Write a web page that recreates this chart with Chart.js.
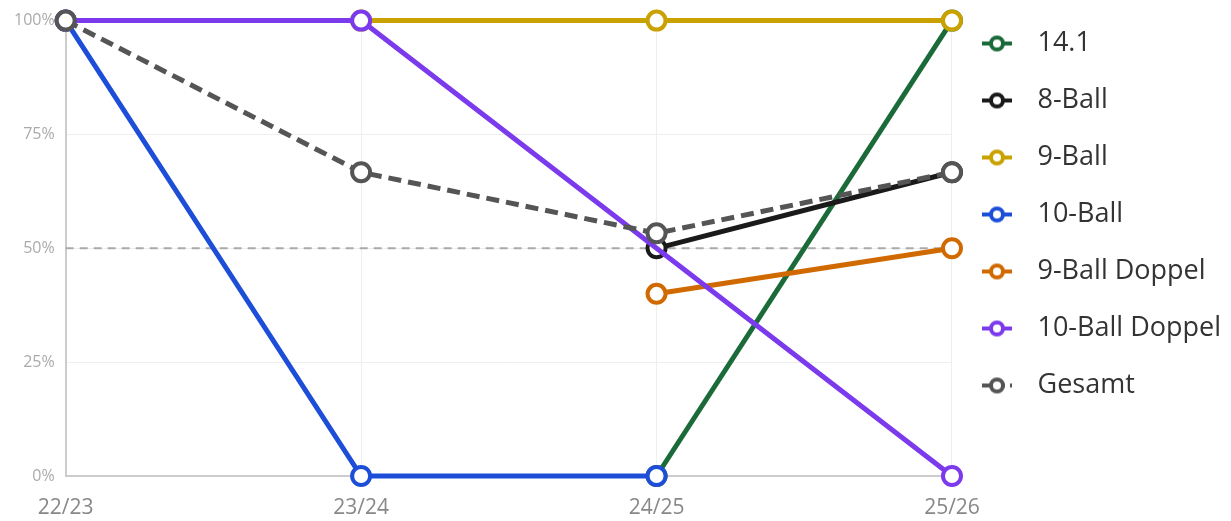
<!DOCTYPE html>
<html>
<head>
<meta charset="utf-8">
<script src="https://cdn.jsdelivr.net/npm/chart.js@4"></script>
<style>
  html, body { margin: 0; padding: 0; background: #fff; }
  #wrap { width: 1231px; height: 521px; }
</style>
</head>
<body>
<div id="wrap"><canvas id="quoteChart"></canvas></div>
<script>
const seasons = ['22/23', '23/24', '24/25', '25/26'];

const names = ['14.1', '8-Ball', '9-Ball', '10-Ball', '9-Ball Doppel', '10-Ball Doppel', 'Gesamt'];
const colors = ['#1b6b3a', '#1a1a1a', '#c9a200', '#1d4ed8', '#d06a00', '#7c3aed', '#555555'];

const quote141 = [null, null, 0, 100];
const quote8Ball = [null, null, 50, 66.7];
const quote9Ball = [100, 100, 100, 100];
const quote10Ball = [100, 0, 0, null];
const quote9BallDoppel = [null, null, 40, 50];
const quote10BallDoppel = [100, 100, null, 0];
const quoteGesamt = [100, 66.7, 53.3, 66.7];
const referenceLine = [50, 50, 50, 50];

const yTicks = [0, 25, 50, 75, 100];

const allValues = [quote141, quote8Ball, quote9Ball, quote10Ball, quote9BallDoppel, quote10BallDoppel, quoteGesamt];

// legend icons: short line with hollow circle
function makeIcon(color, dashed) {
  const c = document.createElement('canvas');
  c.width = 42;
  c.height = 20;
  const g = c.getContext('2d');
  g.strokeStyle = color;
  g.lineWidth = 4;
  if (dashed) g.setLineDash([9, 5]);
  g.beginPath();
  g.moveTo(0, 10);
  g.lineTo(30, 10);
  g.stroke();
  g.setLineDash([]);
  g.beginPath();
  g.arc(15, 10, 6, 0, Math.PI * 2);
  g.fillStyle = '#fff';
  g.fill();
  g.lineWidth = 4;
  g.stroke();
  return c;
}

const icons = names.map((n, i) => makeIcon(colors[i], n === 'Gesamt'));

const datasets = names.map((name, i) => ({
  label: name,
  data: allValues[i],
  borderColor: colors[i],
  backgroundColor: '#fff',
  pointBackgroundColor: '#fff',
  pointBorderColor: colors[i],
  borderWidth: 5,
  pointRadius: 9,
  pointBorderWidth: 4,
  borderDash: name === 'Gesamt' ? [13, 7] : [],
  spanGaps: name === '10-Ball Doppel',
  order: names.length - i
}));

datasets.push({
  label: 'ref',
  data: referenceLine,
  borderColor: '#aaaaaa',
  borderWidth: 2,
  borderDash: [8, 6],
  pointRadius: 0,
  order: 99
});

// move the legend up a bit, the plot area keeps its place
const legendShift = {
  id: 'legendShift',
  afterUpdate(chart) {
    if (chart.legend) {
      chart.legend.top -= 17;
      chart.legend.bottom -= 17;
    }
  }
};

Chart.defaults.font.family = '"Open Sans", "Noto Sans", sans-serif';

new Chart(document.getElementById('quoteChart'), {
  type: 'line',
  data: { labels: seasons, datasets: datasets },
  options: {
    responsive: true,
    maintainAspectRatio: false,
    animation: false,
    clip: false,
    layout: { padding: { top: 17, right: 0, left: 3, bottom: 0 } },
    plugins: {
      tooltip: { enabled: false },
      legend: {
        position: 'right',
        align: 'start',
        labels: {
          usePointStyle: true,
          pointStyleWidth: 42,
          boxHeight: 20,
          padding: 30,
          color: '#333',
          font: { size: 27 },
          filter: item => item.text !== 'ref',
          sort: (a, b) => a.datasetIndex - b.datasetIndex,
          generateLabels: chart => {
            const items = Chart.defaults.plugins.legend.labels.generateLabels(chart);
            items.forEach(it => { if (icons[it.datasetIndex]) it.pointStyle = icons[it.datasetIndex]; });
            return items;
          }
        }
      }
    },
    scales: {
      x: {
        afterFit: axis => { axis.height = 45; },
        grid: { color: '#eeeeee', drawTicks: false },
        border: { color: '#cccccc', width: 2 },
        ticks: { color: '#888', font: { size: 21 }, padding: 19 }
      },
      y: {
        min: 0,
        max: 100,
        afterBuildTicks: axis => { axis.ticks = yTicks.map(v => ({ value: v })); },
        grid: { color: '#eeeeee', drawTicks: false },
        border: { color: '#cccccc', width: 2 },
        ticks: { color: '#aaa', font: { size: 16 }, padding: 11, callback: v => v + '%' }
      }
    }
  },
  plugins: [legendShift]
});
</script>
</body>
</html>
